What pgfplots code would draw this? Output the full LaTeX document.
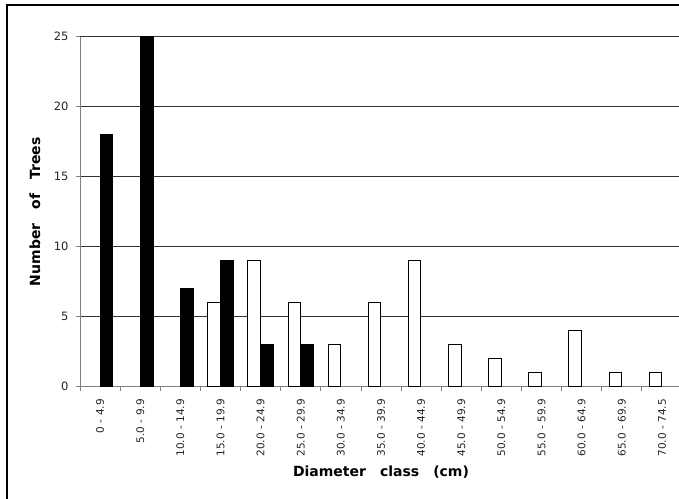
\documentclass[border=0pt]{standalone}
\usepackage{pgfplots}
\pgfplotsset{compat=1.18}
\usepackage{fontspec}
\setmainfont{DejaVu Sans}
\begin{document}
\begin{tikzpicture}[x=1pt,y=1pt]
\clip (0,0) rectangle (679,498);
\fill[white] (0,0) rectangle (679,498);
\draw[line width=1.3pt] (7,-5) -- (7,493) -- (700,493);
\begin{axis}[
  at={(80pt,111.3pt)}, anchor=south west,
  scale only axis, width=602pt, height=350pt,
  xmin=-0.5, xmax=14.5, ymin=0, ymax=25,
  axis x line*=bottom, axis y line*=left,
  axis line style={draw=black!50, line width=1pt},
  ytick={0,5,...,25}, ymajorgrids,
  grid style={black!80, line width=0.8pt},
  xtick={0,...,14},
  xticklabels={0 - 4.9, 5.0 - 9.9, 10.0 - 14.9, 15.0 - 19.9, 20.0 - 24.9, 25.0 - 29.9, 30.0 - 34.9, 35.0 - 39.9, 40.0 - 44.9, 45.0 - 49.9, 50.0 - 54.9, 55.0 - 59.9, 60.0 - 64.9, 65.0 - 69.9, 70.0 - 74.5},
  major x tick style={draw=none},
  minor xtick={-0.5,0.5,...,14.5},
  tick align=outside,
  tick style={draw=black!50, line width=0.8pt},
  major tick length=4pt, minor tick length=4pt,
  /pgf/number format/assume math mode=true,
  xticklabel shift=5pt, yticklabel shift=4pt,
  xticklabel style={rotate=90, anchor=east, font=\fontsize{10.5}{12}\selectfont, text=black!85},
  yticklabel style={font=\fontsize{11.5}{13}\selectfont, text=black!85},
  xlabel={Diameter\hspace{14pt}class\hspace{14pt}(cm)},
  ylabel={Number\hspace{14pt}of\hspace{14pt}Trees},
  xlabel style={at={(axis description cs:0.5,0)}, anchor=center, yshift=-85.3pt, font=\bfseries\fontsize{14}{16}\selectfont},
  ylabel style={at={(axis description cs:0,0.5)}, anchor=center, yshift=45pt, font=\bfseries\fontsize{14}{16}\selectfont},
]
\addplot[ybar, bar width=12.5pt, bar shift=-6.5pt, fill=white, draw=black, line width=0.9pt]
  coordinates {(3,6) (4,9) (5,6) (6,3) (7,6) (8,9) (9,3) (10,2) (11,1) (12,4) (13,1) (14,1)};
\addplot[ybar, bar width=12.5pt, bar shift=6.5pt, fill=black, draw=black, line width=0.9pt]
  coordinates {(0,18) (1,25) (2,7) (3,9) (4,3) (5,3)};
\end{axis}
\end{tikzpicture}
\end{document}
